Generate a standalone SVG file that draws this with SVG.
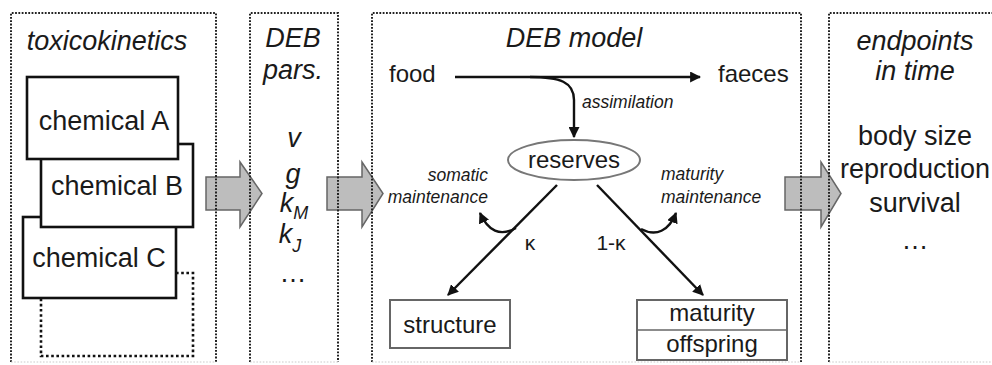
<svg xmlns="http://www.w3.org/2000/svg" width="992" height="365" viewBox="0 0 992 365">
<defs>
<style>
text{font-family:"Liberation Sans",Arial,sans-serif;fill:#1a1a1a}
.t{font-size:27px;text-anchor:middle}
.it{font-style:italic}
.m{font-size:24px}
.s{font-size:17.5px;font-style:italic}
.c{text-anchor:middle}
.e{text-anchor:end}
.panel{fill:none;stroke:#222;stroke-width:2;stroke-dasharray:1.8 1.5}
.pbot{fill:none;stroke:#ccc;stroke-width:1.2;stroke-dasharray:1.6 1.6}
.chem{fill:#fff;stroke:#111;stroke-width:2.6}
.dot{fill:none;stroke:#111;stroke-width:2.6;stroke-dasharray:2.6 2.6}
.big{fill:#bdbdbd;stroke:#666;stroke-width:1.5}
.con{fill:none;stroke:#111;stroke-width:2.4}
.box{fill:#fff;stroke:#666;stroke-width:2}
</style>
<marker id="ah" viewBox="0 0 10 10" refX="9" refY="5" markerWidth="11" markerHeight="11" markerUnits="userSpaceOnUse" orient="auto">
<path d="M0,0 L10,5 L0,10 z" fill="#111"/>
</marker>
</defs>
<rect width="992" height="365" fill="#fff"/>

<g id="arrow1"><polygon class="big" points="206,177 240,177 240,162 262,193.5 240,227 240,210 206,210"/></g>
<g id="arrow2"><polygon class="big" points="327,177 362,177 362,162 383,193.5 362,227 362,210 327,210"/></g>
<g id="arrow3"><polygon class="big" points="785,177 821,177 821,162 841,193.5 821,227 821,210 785,210"/></g>

<g id="panel-toxicokinetics">
<path class="panel" d="M11,362 V13 H216 V362"/>
<path class="pbot" d="M11,362 H216"/>
<text class="t it" x="107" y="50">toxicokinetics</text>
</g>
<g id="chemical-D"><path class="dot" d="M176,273 H193 V356 H41 V298"/></g>
<g id="chemical-C"><rect class="chem" x="23" y="217" width="153" height="81"/><text class="t" x="99" y="267">chemical C</text></g>
<g id="chemical-B"><rect class="chem" x="41" y="144" width="152" height="83"/><text class="t" x="117" y="195">chemical B</text></g>
<g id="chemical-A"><rect class="chem" x="27" y="77" width="151" height="82"/><text class="t" x="104" y="130">chemical A</text></g>

<g id="panel-debpars">
<path class="panel" d="M250,362 V13 H338 V362"/>
<path class="pbot" d="M250,362 H338"/>
<text class="t it" x="293" y="47">DEB</text>
<text class="t it" x="293" y="79">pars.</text>
<text class="t it" x="294" y="147">v</text>
<text class="t it" x="293" y="183">g</text>
<text class="t it" x="294" y="212">k<tspan font-size="18" dy="7">M</tspan></text>
<text class="t it" x="290" y="243">k<tspan font-size="18" dy="9">J</tspan></text>
<text class="t" x="293" y="282">…</text>
</g>

<g id="panel-debmodel">
<path class="panel" d="M372,362 V13 H801 V362"/>
<path class="pbot" d="M372,362 H801"/>
<text class="t it" x="574" y="47">DEB model</text>
</g>
<g id="food"><text class="m" x="389" y="82">food</text></g>
<g id="faeces"><text class="m" x="718" y="82">faeces</text></g>
<g id="reserves"><ellipse cx="574" cy="160" rx="66" ry="20" fill="#fff" stroke="#777" stroke-width="2"/><text class="m c" x="574" y="168">reserves</text></g>
<g id="structure"><rect class="box" x="390" y="300" width="120" height="48"/><text class="m c" x="450" y="333">structure</text></g>
<g id="maturity-offspring"><rect class="box" x="637" y="300" width="150" height="60"/><line x1="637" y1="330" x2="787" y2="330" stroke="#666" stroke-width="1.6"/><text class="m c" x="712" y="321">maturity</text><text class="m c" x="712" y="352">offspring</text></g>

<g id="connectors">
<line class="con" x1="455" y1="77" x2="700" y2="77" marker-end="url(#ah)"/>
<path class="con" d="M530,77 C560,77 574,82 574,100 L574,137" marker-end="url(#ah)"/>
<line class="con" x1="557" y1="185" x2="448" y2="295" marker-end="url(#ah)"/>
<line class="con" x1="597" y1="185" x2="703" y2="295" marker-end="url(#ah)"/>
<path class="con" d="M516,228 C500,237 488,231 480,213" marker-end="url(#ah)"/>
<path class="con" d="M641,229 C656,237 669,231 676,213" marker-end="url(#ah)"/>
<text class="s" x="582" y="108">assimilation</text>
<text class="s e" x="488" y="181">somatic</text>
<text class="s e" x="488" y="203">maintenance</text>
<text class="s" x="661" y="180">maturity</text>
<text class="s" x="661" y="203">maintenance</text>
<text class="c" x="530" y="250" font-size="21">κ</text>
<text class="c" x="611" y="250" font-size="21">1-κ</text>
</g>

<g id="panel-endpoints">
<path class="panel" d="M829,362 V13 H1000"/>
<path class="pbot" d="M829,362 H1000"/>
<text class="t it" x="915" y="50">endpoints</text>
<text class="t it" x="915" y="80">in time</text>
<text class="t" x="915" y="145">body size</text>
<text class="t" x="915" y="178">reproduction</text>
<text class="t" x="915" y="212">survival</text>
<text class="t" x="915" y="249">…</text>
</g>
</svg>
